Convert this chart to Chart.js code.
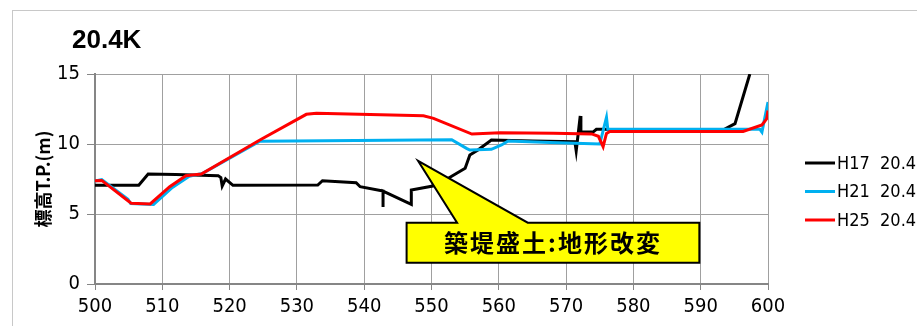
<!DOCTYPE html>
<html lang="ja">
<head>
<meta charset="UTF-8">
<title>20.4K 横断図</title>
<style>
  body { margin: 0; background: #fff; }
  .wrap { position: relative; width: 917px; height: 326px; overflow: hidden; background: #fff; }
  .frame { position: absolute; left: 12px; top: 10px; width: 1000px; height: 1000px; border: 1px solid #c8c8c8; }
  canvas { position: absolute; left: 0; top: 0; }
</style>
<script src="https://cdn.jsdelivr.net/npm/chart.js"></script>
</head>
<body>
<div class="wrap">
  <div class="frame"></div>
  <canvas id="chart" width="917" height="326"></canvas>
</div>
<script>
// テキスト
const chartTitle = '20.4K';
const yTitle = '標高T.P.(m)';
const calloutText = '築堤盛土:地形改変';
const seriesNames = ['H17  20.4K', 'H21  20.4K', 'H25  20.4K'];

// 軸
const xMin = 500, xMax = 600, xStep = 10;
const yMin = 0, yMax = 15, yStep = 5;

// H17 (距離, 標高)
const h17X = [500, 506.5, 507.9, 512, 518.3, 518.7, 518.9, 519.4, 520.5, 533.1, 533.8, 538.8, 539.4, 542.8, 542.8, 542.8, 547.0, 547.0, 550.2, 552.5, 555.0, 555.7, 556.9, 558.9, 565, 571.3, 571.5, 572.1, 572.2, 574.0, 574.5, 575.8, 577, 585, 593.3, 595.1, 597.3];
const h17Y = [7.05, 7.05, 7.86, 7.82, 7.74, 7.6, 7.0, 7.5, 7.05, 7.07, 7.38, 7.24, 6.95, 6.64, 5.5, 6.64, 5.69, 6.71, 7.0, 7.55, 8.26, 9.21, 9.57, 10.29, 10.22, 10.16, 9.5, 12.0, 10.85, 10.85, 11.05, 11.05, 10.98, 10.98, 11.0, 11.45, 15.0];

// H21
const h21X = [500, 501, 504.9, 505.3, 508.7, 511.5, 514, 516, 524.5, 553, 555.2, 555.7, 558.9, 560.4, 561.4, 567.6, 575.0, 576.0, 576.2, 598.8, 599.1, 600];
const h21Y = [7.35, 7.45, 6.05, 5.75, 5.68, 6.9, 7.7, 7.9, 10.2, 10.3, 9.69, 9.57, 9.62, 9.93, 10.22, 10.1, 10.0, 11.9, 11.05, 11.05, 10.85, 13.0];

// H25
const h25X = [500, 501, 504.9, 505.4, 508.2, 511.1, 513.5, 515.8, 524.5, 531.4, 532.9, 548.8, 550.3, 556.0, 560.2, 568.1, 573.8, 574.8, 575.5, 576.0, 576.5, 596.3, 599.1, 599.8, 600];
const h25Y = [7.38, 7.4, 5.95, 5.76, 5.72, 6.95, 7.74, 7.86, 10.29, 12.12, 12.19, 12.02, 11.83, 10.71, 10.81, 10.76, 10.72, 10.55, 9.81, 10.76, 10.9, 10.9, 11.36, 11.8, 12.4];

const lineColors = ['#000000', '#00b0f0', '#ff0000'];

// 吹き出し (データ座標)
const callout = { tip: [548.0, 8.8], left: 546.3, right: 589.8, top: 4.38, bottom: 1.52, base: [553.8, 564.3] };

const numFont = "'Liberation Sans Narrow', 'DejaVu Sans Condensed', 'Liberation Sans', sans-serif";
const jpFont = "'Noto Sans CJK JP', sans-serif";

function toPoints(xs, ys) {
  return xs.map((x, i) => ({ x: x, y: ys[i] }));
}

const decor = {
  id: 'decor',
  afterDatasetsDraw(chart) {
    const { ctx, scales: { x, y } } = chart;
    const l = x.getPixelForValue(callout.left), r = x.getPixelForValue(callout.right);
    const t = y.getPixelForValue(callout.top), b = y.getPixelForValue(callout.bottom);
    const tx = x.getPixelForValue(callout.tip[0]), ty = y.getPixelForValue(callout.tip[1]);
    const b1 = x.getPixelForValue(callout.base[0]), b2 = x.getPixelForValue(callout.base[1]);
    ctx.save();
    ctx.fillStyle = '#ffff00';
    ctx.strokeStyle = '#000';
    ctx.lineWidth = 2;
    ctx.beginPath();
    ctx.moveTo(l, t);
    ctx.lineTo(b1, t);
    ctx.lineTo(tx, ty);
    ctx.lineTo(b2, t);
    ctx.lineTo(r, t);
    ctx.lineTo(r, b);
    ctx.lineTo(l, b);
    ctx.closePath();
    ctx.fill();
    ctx.stroke();
    ctx.fillStyle = '#000';
    ctx.font = 'bold 24px ' + jpFont;
    ctx.textAlign = 'center';
    ctx.textBaseline = 'middle';
    ctx.letterSpacing = '2px';
    ctx.fillText(calloutText, (l + r) / 2, (t + b) / 2);
    ctx.restore();
  },
  afterDraw(chart) {
    const ctx = chart.ctx;
    ctx.save();
    // タイトル
    ctx.fillStyle = '#000';
    ctx.font = 'bold 26px ' + "'Liberation Sans', sans-serif";
    ctx.textAlign = 'left';
    ctx.textBaseline = 'alphabetic';
    ctx.fillText(chartTitle, 72, 48);
    // 縦軸タイトル
    ctx.save();
    ctx.translate(43, 179);
    ctx.rotate(-Math.PI / 2);
    ctx.font = 'bold 18px ' + jpFont;
    ctx.textAlign = 'center';
    ctx.textBaseline = 'middle';
    ctx.fillText(yTitle, 0, 0);
    ctx.restore();
    // 凡例
    ctx.font = '18px ' + numFont;
    ctx.textBaseline = 'middle';
    chart.data.datasets.forEach((ds, i) => {
      const yy = 163 + i * 28.5;
      ctx.strokeStyle = ds.borderColor;
      ctx.lineWidth = 3;
      ctx.beginPath();
      ctx.moveTo(805, yy);
      ctx.lineTo(835, yy);
      ctx.stroke();
      ctx.fillStyle = '#000';
      ctx.fillText(ds.label, 837, yy + 1);
    });
    ctx.restore();
  }
};

new Chart(document.getElementById('chart'), {
  type: 'scatter',
  data: {
    datasets: [
      { label: seriesNames[0], data: toPoints(h17X, h17Y), borderColor: lineColors[0], order: 3 },
      { label: seriesNames[1], data: toPoints(h21X, h21Y), borderColor: lineColors[1], order: 2 },
      { label: seriesNames[2], data: toPoints(h25X, h25Y), borderColor: lineColors[2], order: 1 }
    ].map(d => Object.assign(d, { showLine: true, pointRadius: 0, borderWidth: 3, tension: 0, fill: false, backgroundColor: d.borderColor }))
  },
  options: {
    responsive: false,
    animation: false,
    layout: { padding: { left: 0, right: 149, top: 74, bottom: 0 } },
    plugins: { legend: { display: false }, tooltip: { enabled: false } },
    scales: {
      x: {
        type: 'linear', min: xMin, max: xMax,
        ticks: { stepSize: xStep, color: '#000', padding: 5, font: { family: numFont, size: 20 } },
        grid: { color: '#a0a0a0', lineWidth: 1, tickLength: 6, tickColor: '#868686' },
        border: { color: '#868686', width: 2 },
        afterFit: s => { s.height = 42; }
      },
      y: {
        type: 'linear', min: yMin, max: yMax,
        ticks: { stepSize: yStep, color: '#000', padding: 7, font: { family: numFont, size: 20 } },
        grid: { color: '#a0a0a0', lineWidth: 1, tickLength: 8, tickColor: '#868686' },
        border: { color: '#868686', width: 2 },
        afterFit: s => { s.width = 95; }
      }
    }
  },
  plugins: [decor]
});
</script>
</body>
</html>
